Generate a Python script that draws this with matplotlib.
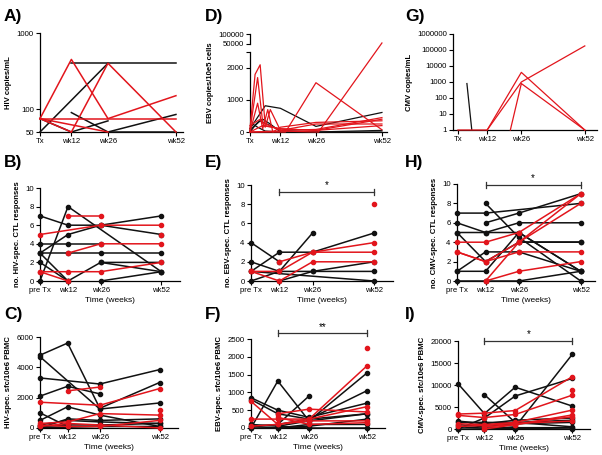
import numpy as np
import matplotlib.pyplot as plt

plt.rcParams['font.family'] = ['Liberation Sans', 'DejaVu Sans']

RED = '#e2151c'
BLACK = '#111111'
nan = np.nan

weeks = [0, 12, 26, 52]

# A) HIV copies/mL (detection floor 50)
hiv_vl_red = [[75, 450, 75, 150], [nan, 50, 400, 50], [75, 75, 75, 75],
              [75, nan, 50, nan], [75, 50, nan, nan]]
hiv_vl_black = [[50, nan, 400, nan], [nan, 400, 400, 400], [75, 50, 70, nan],
                [nan, 90, 50, 50], [nan, nan, 50, 85]]

# B) no. HIV-spec. CTL responses
hiv_ctl_red = [[5, nan, 6, 6], [nan, 7, 7, nan], [nan, 3, 4, 4], [1, 1, 1, 2],
               [1, 0, nan, nan], [nan, nan, nan, 5]]
hiv_ctl_black = [[7, 6, 6, 5], [0, 8, nan, 1], [3, 5, 6, 7], [4, 4, 4, nan],
                 [3, 3, 3, 3], [2, 0, 2, 2], [3, 0, nan, nan], [nan, nan, 2, 1],
                 [nan, nan, 0, 1]]

# C) HIV-spec. sfc/10e6 PBMC
hiv_sfc_red = [[nan, 2450, 2700, nan], [1700, nan, 1500, 2600], [nan, nan, nan, 1200],
               [300, 400, 950, 850], [200, 100, 100, 500], [100, 300, 200, 0]]
hiv_sfc_black = [[4800, 5600, 1300, 3000], [4700, nan, 1250, 1650], [3300, nan, 2900, 3850],
                 [2100, 2750, 2250, nan], [1000, 100, nan, nan], [500, 1400, 850, 100],
                 [0, 600, 500, 600], [200, 500, 400, 300], [100, 200, 200, 300],
                 [50, 50, 100, 100]]

# D) EBV copies/10e5 cells (irregular sampling)
ebv_vl_red_wk = [[0, 2, 4, 6, 12, 26, 52], [0, 2, 3, 5, 12, 26, 52], [0, 3, 5, 7, 9, 12, 26, 52],
                 [0, 4, 6, 8, 12, 26, 52], [0, 14, 26, 52], [0, 12, 27, 52], [0, 5, 12, 26, 52]]
ebv_vl_red = [[100, 1800, 2100, 200, 100, 50, 400], [50, 1150, 1700, 300, 50, 80, 450],
              [0, 900, 100, 700, 0, 150, 300, 350], [200, 400, 150, 700, 50, 250, 250],
              [0, 0, 1540, 70], [0, 30, 0, 55000], [0, 200, 100, 50, 200]]
ebv_vl_black_wk = [[0, 6, 12, 26, 52], [0, 3, 5, 8, 12, 26, 52], [0, 2, 4, 12, 26, 52],
                   [0, 1, 3, 6, 12]]
ebv_vl_black = [[100, 820, 740, 175, 610], [50, 300, 400, 250, 0, 0, 50],
                [0, 200, 350, 50, 0, 0], [100, 250, 150, 30, 0]]

# E) no. EBV-spec. CTL responses
ebv_ctl_red = [[nan, 2, 3, 4], [1, 1, 3, 3], [1, 0, 2, 2], [nan, nan, nan, 8]]
ebv_ctl_black = [[4, 2, nan, nan], [1, 3, 3, 5], [0, 1, 5, nan], [2, 1, 1, 1],
                 [1, nan, nan, 0], [nan, 0, 1, 2]]

# F) EBV-spec. sfc/10e6 PBMC
ebv_sfc_red = [[750, 100, 250, 1750], [nan, nan, nan, 2250], [250, 250, 250, 600],
               [nan, 400, 530, 450], [50, 100, 200, 200], [nan, 300, 100, 150]]
ebv_sfc_black = [[850, 500, 300, 700], [800, 400, 250, 400], [0, 1320, 200, 400],
                 [50, 100, 900, nan], [nan, 50, 200, 1550], [nan, 100, 250, 1050],
                 [50, 0, 50, 250], [0, 0, 100, 100], [100, 50, 0, 0]]

# G) CMV copies/mL
cmv_vl_red_wk = [[0, 12, 26, 52], [12, 26, 52], [21.5, 26, 52]]
cmv_vl_red = [[1, 1, 4000, 1], [1, 1000, 180000], [1, 800, 1]]
cmv_vl_black_wk = [[3.7, 5.7]]
cmv_vl_black = [[800, 1]]

# H) no. CMV-spec. CTL responses
cmv_ctl_red = [[4, 4, 5, 9], [3, 2, 4, 8], [3, 2, 3, 3], [nan, 0, 1, 2], [nan, 0, 4, 9]]
cmv_ctl_black = [[7, 7, nan, 8], [nan, 6, 7, 9], [6, 5, 6, 6], [5, 5, 5, 1],
                 [nan, 8, 4.5, 0], [5, 2, 4, 4], [1, 3, 3, 1], [1, 1, 5, 1],
                 [0, 0, 0, 1], [nan, nan, 4, 4]]

# I) CMV-spec. sfc/10e6 PBMC
cmv_sfc_red = [[3400, 3600, 4200, 11900], [3100, 2600, 3300, 7700], [nan, nan, nan, 8800],
               [1200, 1000, 1500, 4300], [nan, 0, 1000, 3200], [nan, 500, 1000, 2800],
               [600, 800, 1300, 1800]]
cmv_sfc_black = [[10300, 3500, 9500, 5200], [nan, 7800, 1500, 500], [0, 2500, 7500, 11500],
                 [nan, 0, 500, 17000], [1800, 1200, 2000, 2500], [1500, 1500, 1500, 2000],
                 [1000, 500, 1200, 1500], [500, 200, 300, 300], [0, 0, 100, 0]]

W, H = 602, 455
fig = plt.figure(figsize=(W / 100, H / 100), dpi=100)


def add_ax(l, t, r, b):
    return fig.add_axes([l / W, 1 - b / H, (r - l) / W, (b - t) / H])


def style(ax, xlabels, ylabel, xlabel=None):
    for s in ['top', 'right']:
        ax.spines[s].set_visible(False)
    for s in ['left', 'bottom']:
        ax.spines[s].set_linewidth(0.9)
    ax.tick_params(labelsize=5.6, length=3, width=0.8, pad=1.5)
    ax.tick_params(which='minor', length=0)
    ax.set_xticks(weeks)
    ax.set_xticklabels(xlabels)
    ax.set_ylabel(ylabel, fontsize=5.6, fontweight='bold', labelpad=3)
    if xlabel:
        ax.set_xlabel(xlabel, fontsize=6, labelpad=2)


def draw_timecourse(ax, black, red, markers=True):
    for rows, c in [(black, BLACK), (red, RED)]:
        for row in rows:
            y = np.array(row, dtype=float)
            m = ~np.isnan(y)
            x = np.array(weeks)[m]
            ax.plot(x, y[m], color=c, lw=1.1, marker='o' if markers else None,
                    ms=3, clip_on=False, zorder=3)


def draw_irregular(ax, wks, vals, color):
    for x, y in zip(wks, vals):
        ax.plot(x, y, color=color, lw=0.9, clip_on=False, zorder=3)


def sig_bar(ax, y, cap, text):
    ax.plot([12, 52], [y, y], color='#333333', lw=0.9, clip_on=False)
    for x in [12, 52]:
        ax.plot([x, x], [y - cap, y + cap], color='#333333', lw=0.9, clip_on=False)
    ax.text(32, y + cap * 0.6, text, ha='center', va='bottom', fontsize=7)


def panel_label(x, y, s):
    fig.text(x / W, 1 - y / H, s, fontsize=12.5, fontweight='bold', va='center', ha='left')


tx_labels = ['Tx', 'wk12', 'wk26', 'wk52']
pre_labels = ['pre Tx', 'wk12', 'wk26', 'wk52']

# A
ax = add_ax(40, 33, 183, 132)
ax.set_yscale('log')
draw_timecourse(ax, hiv_vl_black, hiv_vl_red, markers=False)
ax.set_xlim(0, 54.7)
ax.set_ylim(50, 1000)
style(ax, tx_labels, 'HIV copies/mL')
ax.set_yticks([50, 100, 1000])
ax.set_yticklabels(['50', '100', '1000'])

# B
ax = add_ax(40, 188, 180, 281)
draw_timecourse(ax, hiv_ctl_black, hiv_ctl_red)
ax.set_xlim(0, 60)
ax.set_ylim(0, 10)
style(ax, pre_labels, 'no. HIV-spec. CTL responses', 'Time (weeks)')
ax.set_yticks([0, 2, 4, 6, 8, 10])

# C
ax = add_ax(40, 337, 178, 428)
draw_timecourse(ax, hiv_sfc_black, hiv_sfc_red)
ax.set_xlim(0, 60)
ax.set_ylim(0, 6000)
style(ax, pre_labels, 'HIV-spec. sfc/10e6 PBMC', 'Time (weeks)')
ax.set_yticks([0, 2000, 4000, 6000])

# D (broken y axis)
brk_in = [0, 2500, 50000, 100000]
brk_out = [0, 2500, 2750, 3062]


def fwd(y):
    return np.interp(y, brk_in, brk_out)


def inv(y):
    return np.interp(y, brk_out, brk_in)


ax = add_ax(250, 34, 387, 132)
ax.set_yscale('function', functions=(fwd, inv))
draw_irregular(ax, ebv_vl_black_wk, ebv_vl_black, BLACK)
draw_irregular(ax, ebv_vl_red_wk, ebv_vl_red, RED)
ax.set_xlim(0, 54)
ax.set_ylim(0, 100000)
style(ax, tx_labels, 'EBV copies/10e5 cells')
ax.spines['left'].set_visible(False)
ax.plot([0, 0], [0, 2500], color='k', lw=0.9, clip_on=False)
ax.plot([0, 0], [50000, 100000], color='k', lw=0.9, clip_on=False)
ax.set_yticks([0, 1000, 2000, 2500, 50000, 100000])
ax.set_yticklabels(['0', '1000', '2000', '', '50000', '100000'])

# E
ax = add_ax(251, 185, 393, 281)
draw_timecourse(ax, ebv_ctl_black, ebv_ctl_red)
ax.set_xlim(0, 60)
ax.set_ylim(0, 10)
style(ax, pre_labels, 'no. EBV-spec. CTL responses', 'Time (weeks)')
ax.set_yticks([0, 2, 4, 6, 8, 10])
sig_bar(ax, 9.3, 0.3, '*')

# F
ax = add_ax(251, 339, 385, 428)
draw_timecourse(ax, ebv_sfc_black, ebv_sfc_red)
ax.set_xlim(0, 60)
ax.set_ylim(0, 2500)
style(ax, pre_labels, 'EBV-spec. sfc/10e6 PBMC', 'Time (weeks)')
ax.set_yticks([0, 500, 1000, 1500, 2000, 2500])
sig_bar(ax, 2660, 80, '**')

# G
ax = add_ax(453, 34, 597, 130)
ax.set_yscale('log')
draw_irregular(ax, cmv_vl_black_wk, cmv_vl_black, BLACK)
draw_irregular(ax, cmv_vl_red_wk, cmv_vl_red, RED)
ax.set_xlim(-2, 57)
ax.set_ylim(1, 1e6)
style(ax, tx_labels, 'CMV copies/mL')
yt = [1, 10, 100, 1000, 10000, 100000, 1000000]
ax.set_yticks(yt)
ax.set_yticklabels([str(v) for v in yt])

# H
ax = add_ax(457, 184, 595, 281)
draw_timecourse(ax, cmv_ctl_black, cmv_ctl_red)
ax.set_xlim(0, 58)
ax.set_ylim(0, 10)
style(ax, pre_labels, 'no. CMV-spec. CTL responses', 'Time (weeks)')
ax.set_yticks([0, 2, 4, 6, 8, 10])
sig_bar(ax, 9.9, 0.3, '*')

# I
ax = add_ax(458, 341, 590, 429)
draw_timecourse(ax, cmv_sfc_black, cmv_sfc_red)
ax.set_xlim(0, 60)
ax.set_ylim(0, 20000)
style(ax, pre_labels, 'CMV-spec. sfc/10e6 PBMC', 'Time (weeks)')
ax.set_yticks([0, 5000, 10000, 15000, 20000])
sig_bar(ax, 20000, 600, '*')

for x, y, s in [(4, 17, 'A)'), (4, 162, 'B)'), (4, 314, 'C)'),
                (205, 17, 'D)'), (205, 162, 'E)'), (205, 314, 'F)'),
                (405, 17, 'G)'), (405, 162, 'H)'), (405, 314, 'I)')]:
    panel_label(x, y, s)

fig.savefig('out.png', dpi=100)
